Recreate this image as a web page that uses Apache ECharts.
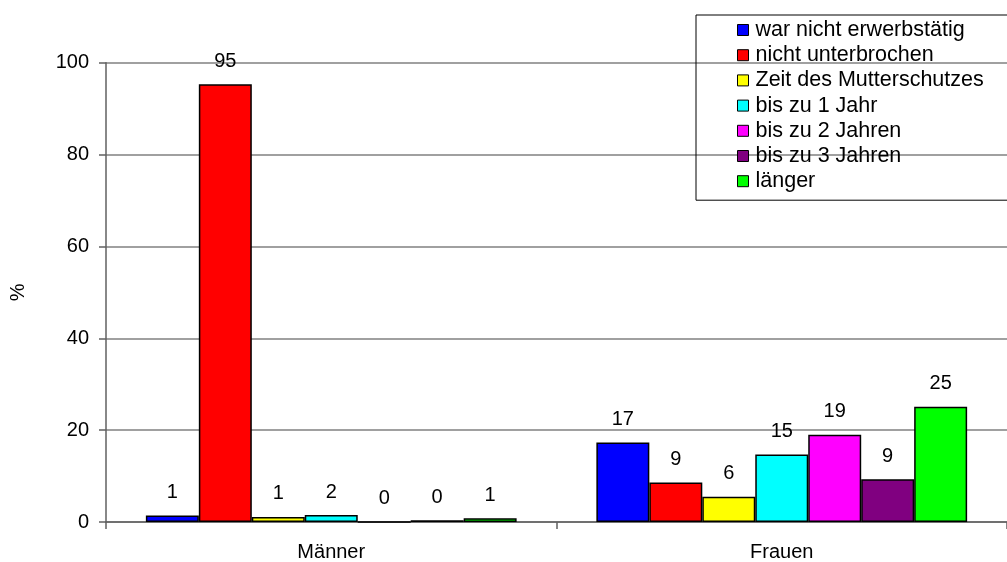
<!DOCTYPE html>
<html>
<head>
<meta charset="utf-8">
<script src="https://cdn.jsdelivr.net/npm/echarts@6/dist/echarts.min.js"></script>
<style>
html,body{margin:0;padding:0;background:#fff;}
#c{width:1007px;height:562px;}
</style>
</head>
<body>
<div id="c"></div>
<script>
var categories = ['Männer', 'Frauen'];
var seriesNames = ['war nicht erwerbstätig', 'nicht unterbrochen', 'Zeit des Mutterschutzes', 'bis zu 1 Jahr', 'bis zu 2 Jahren', 'bis zu 3 Jahren', 'länger'];
var seriesColors = ['#0000FF', '#FF0000', '#FFFF00', '#00FFFF', '#FF00FF', '#800080', '#00FF00'];
var warNichtErwerbstaetig = [1.4, 17.3];
var nichtUnterbrochen = [95.3, 8.6];
var zeitDesMutterschutzes = [1.1, 5.5];
var bisZu1Jahr = [1.5, 14.7];
var bisZu2Jahren = [0.0, 19.0];
var bisZu3Jahren = [0.4, 9.3];
var laenger = [0.8, 25.1];
var yTicks = [0, 20, 40, 60, 80, 100];

var values = [warNichtErwerbstaetig, nichtUnterbrochen, zeitDesMutterschutzes, bisZu1Jahr, bisZu2Jahren, bisZu3Jahren, laenger];
var FONT = 'Liberation Sans, Arial, sans-serif';

var chart = echarts.init(document.getElementById('c'), null, {renderer: 'canvas'});
var series = seriesNames.map(function (n, i) {
  return {
    name: n,
    type: 'bar',
    data: values[i],
    barGap: '0%',
    barCategoryGap: '17.7%',
    itemStyle: {color: seriesColors[i], borderColor: '#000', borderWidth: 1.5},
    label: {
      show: true, position: 'top', distance: 13,
      color: '#000', fontSize: 20, fontFamily: FONT,
      formatter: function (p) { return Math.round(p.value); }
    }
  };
});

chart.setOption({
  animation: false,
  backgroundColor: '#fff',
  grid: {left: 98, right: -3, top: 62.7, bottom: 38.7, containLabel: false},
  legend: {
    orient: 'vertical',
    left: 696, top: 15,
    padding: [4, 60, 8, 41],
    borderColor: '#000', borderWidth: 1,
    itemWidth: 11, itemHeight: 11, itemGap: 3.2,
    icon: 'rect',
    itemStyle: {borderColor: '#000', borderWidth: 1},
    textStyle: {fontSize: 21.5, fontFamily: FONT, color: '#000', lineHeight: 21, padding: [0, 0, 0, 2]},
    data: seriesNames
  },
  xAxis: {
    type: 'category',
    data: categories,
    axisLine: {lineStyle: {color: '#606060', width: 1.5}},
    axisTick: {show: true, length: 7, lineStyle: {color: '#606060', width: 1.5}},
    axisLabel: {color: '#000', fontSize: 20, fontFamily: FONT, margin: 20}
  },
  yAxis: {
    type: 'value',
    min: yTicks[0], max: yTicks[yTicks.length - 1], interval: 20,
    name: '%', nameLocation: 'middle', nameGap: 78, nameRotate: 90,
    nameTextStyle: {color: '#000', fontSize: 20, fontFamily: FONT},
    axisLine: {show: true, lineStyle: {color: '#606060', width: 1.5}},
    axisTick: {show: true, length: 7, lineStyle: {color: '#606060', width: 1.5}},
    axisLabel: {color: '#000', fontSize: 20, fontFamily: FONT, margin: 17},
    splitLine: {lineStyle: {color: '#808080', width: 1.5}}
  },
  series: series
});
</script>
</body>
</html>
